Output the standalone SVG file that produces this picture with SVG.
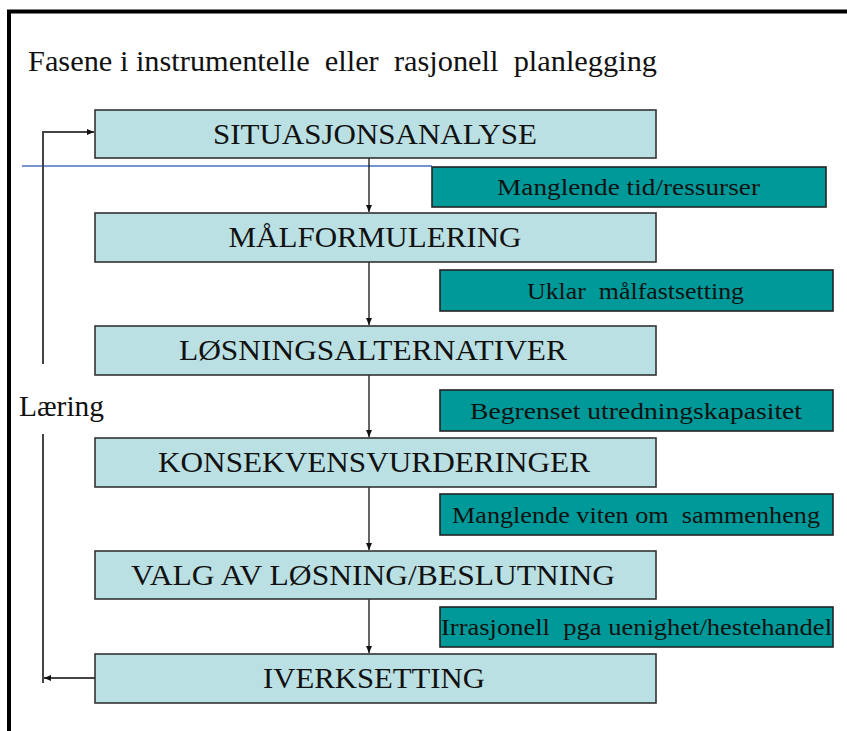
<svg xmlns="http://www.w3.org/2000/svg" width="847" height="731" viewBox="0 0 847 731" font-family="Liberation Serif, DejaVu Serif, serif">
<style>
.frame{fill:none;stroke:#000;stroke-width:4}
.box{fill:#BBE0E3;stroke:#333;stroke-width:1.6}
.tbox{fill:#009999;stroke:#222;stroke-width:1.6}
.main{font-size:30px;text-anchor:middle;fill:#111}
.side{font-size:24px;text-anchor:middle;fill:#111}
.conn{fill:none;stroke:#111;stroke-width:1.3}
.fb{fill:none;stroke:#444;stroke-width:2}
</style>
<defs>
<marker id="arr" markerWidth="8" markerHeight="8" refX="7" refY="4" orient="auto" markerUnits="userSpaceOnUse">
<path d="M0,1 L7,4 L0,7 Z" fill="#111"/>
</marker>
</defs>
<rect width="847" height="731" fill="#fff"/>
<path class="frame" d="M9,731 V11.5 H847"/>
<text x="28" y="71" font-family="Liberation Serif" font-size="30" fill="#111" textLength="629" lengthAdjust="spacingAndGlyphs" xml:space="preserve">Fasene i instrumentelle  eller  rasjonell  planlegging</text>
<line x1="22" y1="166" x2="432" y2="166" stroke="#4472C4" stroke-width="1.5"/>
<g id="connectors">
<line class="conn" x1="369" y1="158" x2="369" y2="212" marker-end="url(#arr)"/>
<line class="conn" x1="369" y1="262" x2="369" y2="325" marker-end="url(#arr)"/>
<line class="conn" x1="369" y1="375" x2="369" y2="437" marker-end="url(#arr)"/>
<line class="conn" x1="369" y1="487" x2="369" y2="550" marker-end="url(#arr)"/>
<line class="conn" x1="369" y1="599" x2="369" y2="653" marker-end="url(#arr)"/>
<path class="fb" d="M43,364 V132 H94" marker-end="url(#arr)"/>
<line class="fb" x1="43" y1="434" x2="43" y2="683"/>
<line class="fb" x1="95" y1="678" x2="44" y2="678" marker-end="url(#arr)"/>
</g>
<g id="laering"><text x="19" y="416" font-family="Liberation Serif" font-size="29" fill="#111" textLength="85" lengthAdjust="spacingAndGlyphs">Læring</text></g>
<g id="n1"><rect class="box" x="95" y="110" width="561" height="48"/><text class="main" x="375" y="144" textLength="324" lengthAdjust="spacingAndGlyphs">SITUASJONSANALYSE</text></g>
<g id="n2"><rect class="box" x="95" y="213" width="561" height="49"/><text class="main" x="375" y="247" textLength="293" lengthAdjust="spacingAndGlyphs">MÅLFORMULERING</text></g>
<g id="n3"><rect class="box" x="95" y="326" width="561" height="49"/><text class="main" x="373" y="360" textLength="388" lengthAdjust="spacingAndGlyphs">LØSNINGSALTERNATIVER</text></g>
<g id="n4"><rect class="box" x="95" y="438" width="561" height="49"/><text class="main" x="374" y="472" textLength="432" lengthAdjust="spacingAndGlyphs">KONSEKVENSVURDERINGER</text></g>
<g id="n5"><rect class="box" x="95" y="551" width="561" height="48"/><text class="main" x="373" y="585" textLength="484" lengthAdjust="spacingAndGlyphs">VALG AV LØSNING/BESLUTNING</text></g>
<g id="n6"><rect class="box" x="95" y="654" width="561" height="49"/><text class="main" x="374" y="688" textLength="222" lengthAdjust="spacingAndGlyphs">IVERKSETTING</text></g>
<g id="b1"><rect class="tbox" x="432" y="167" width="394" height="40"/><text class="side" x="628.5" y="195" textLength="263" lengthAdjust="spacingAndGlyphs">Manglende tid/ressurser</text></g>
<g id="b2"><rect class="tbox" x="440" y="270" width="393" height="41"/><text class="side" x="635.5" y="299" textLength="217" lengthAdjust="spacingAndGlyphs" xml:space="preserve">Uklar  målfastsetting</text></g>
<g id="b3"><rect class="tbox" x="440" y="390" width="393" height="41"/><text class="side" x="636" y="419" textLength="332" lengthAdjust="spacingAndGlyphs">Begrenset utredningskapasitet</text></g>
<g id="b4"><rect class="tbox" x="440" y="494" width="393" height="41"/><text class="side" x="636" y="523" textLength="368" lengthAdjust="spacingAndGlyphs" xml:space="preserve">Manglende viten om  sammenheng</text></g>
<g id="b5"><rect class="tbox" x="440" y="607" width="393" height="40"/><text class="side" x="636.5" y="635" textLength="391" lengthAdjust="spacingAndGlyphs" xml:space="preserve">Irrasjonell  pga uenighet/hestehandel</text></g>
</svg>
